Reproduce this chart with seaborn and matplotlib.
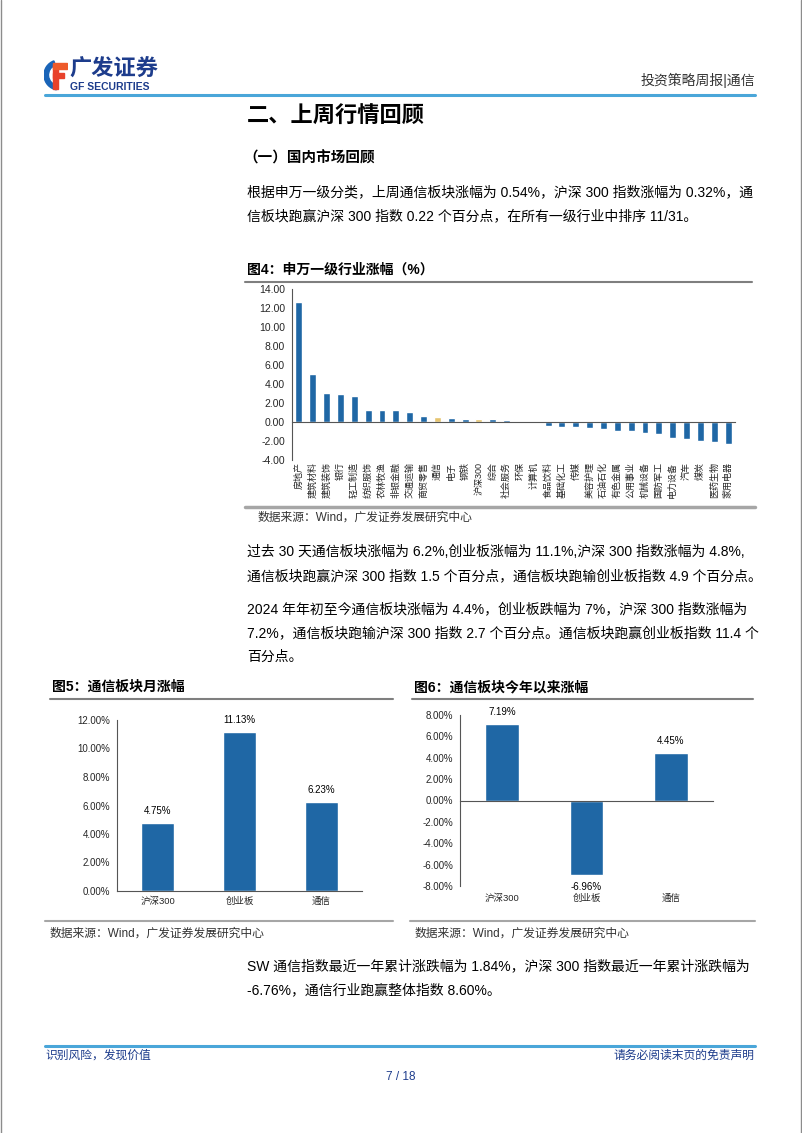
import matplotlib
matplotlib.use('Agg')
import numpy as np
import pandas as pd
import matplotlib.pyplot as plt
import seaborn as sns
from matplotlib.lines import Line2D
from matplotlib.patches import Wedge, Rectangle
from matplotlib.ticker import FixedLocator, FuncFormatter

sns.set_style('white')
plt.rcParams['font.family'] = ['Liberation Sans', 'Noto Sans CJK SC']
plt.rcParams['axes.unicode_minus'] = False

# ---------------- data ----------------
industries = ['房地产', '建筑材料', '建筑装饰', '银行', '轻工制造', '纺织服饰', '农林牧渔',
              '非银金融', '交通运输', '商贸零售', '通信', '电子', '钢铁', '沪深300', '综合',
              '社会服务', '环保', '计算机', '食品饮料', '基础化工', '传媒', '美容护理',
              '石油石化', '有色金属', '公用事业', '机械设备', '国防军工', '电力设备', '汽车',
              '煤炭', '医药生物', '家用电器']
industry_change = [12.65, 5.03, 3.01, 2.95, 2.72, 1.30, 1.29, 1.29, 1.08, 0.68, 0.54, 0.40,
                   0.36, 0.32, 0.30, 0.16, 0.05, -0.03, -0.38, -0.53, -0.52, -0.68, -0.78,
                   -0.90, -0.90, -1.18, -1.28, -1.65, -1.75, -2.05, -2.12, -2.30]
highlight = ['通信', '沪深300']

month_labels = ['沪深300', '创业板', '通信']
month_change = [4.75, 11.13, 6.23]

ytd_labels = ['沪深300', '创业板', '通信']
ytd_change = [7.19, -6.96, 4.45]

BLUE = '#1F67A5'
GOLD = '#E6C46F'
NAVY = '#1D3C8C'
AXC = '#555555'

W, H = 802, 1133
fig = plt.figure(figsize=(W / 100, H / 100), dpi=100)
fig.patch.set_facecolor('white')


def fx(x):
    return x / W


def fy(y):
    return 1 - y / H


def axes_px(l, t, r, b):
    return fig.add_axes([fx(l), fy(b), (r - l) / W, (b - t) / H])


def text(x, y, s, **kw):
    kw.setdefault('va', 'center')
    fig.text(fx(x), fy(y), s, **kw)


def hline(x0, x1, y, color, lw):
    fig.add_artist(Line2D([fx(x0), fx(x1)], [fy(y), fy(y)], color=color, lw=lw,
                          transform=fig.transFigure))


# page border
fig.add_artist(Line2D([fx(0.6), fx(0.6)], [0, 1], color='#8c8c8c', lw=1, transform=fig.transFigure))
fig.add_artist(Line2D([fx(801.4), fx(801.4)], [0, 1], color='#8c8c8c', lw=1, transform=fig.transFigure))

# ---------------- header ----------------
lg = axes_px(44, 56, 68, 92)
lg.set_xlim(0, 24)
lg.set_ylim(36, 0)
lg.axis('off')
lg.add_patch(Wedge((15, 19), 15, 100, 250, width=4.5, color='#1A64B8'))
lg.add_patch(Rectangle((9, 9), 5, 24, color='#E8412B'))
lg.add_patch(Rectangle((9, 7), 14, 5.5, color='#EE5A2A'))
lg.add_patch(Rectangle((9, 17), 11, 5, color='#E8412B'))

text(69, 70, '广发证券', fontsize=16, fontweight='bold', color=NAVY)
text(70, 87, 'GF SECURITIES', fontsize=7.5, fontweight='bold', color=NAVY)
text(755, 80, '投资策略周报|通信', fontsize=10, color='#333333', ha='right')
hline(45, 755, 95, '#4AA6D9', 2.2)

# ---------------- headings & paragraphs ----------------
text(247, 117, '二、上周行情回顾', fontsize=16, fontweight='bold', color='black')
text(243, 158, '（一）国内市场回顾', fontsize=10.5, fontweight='bold', color='black')

BODY = dict(fontsize=10, color='black')
text(247, 192, '根据申万一级分类，上周通信板块涨幅为 0.54%，沪深 300 指数涨幅为 0.32%，通', **BODY)
text(247, 216, '信板块跑赢沪深 300 指数 0.22 个百分点，在所有一级行业中排序 11/31。', **BODY)

text(247, 552, '过去 30 天通信板块涨幅为 6.2%,创业板涨幅为 11.1%,沪深 300 指数涨幅为 4.8%,', **BODY)
text(247, 576, '通信板块跑赢沪深 300 指数 1.5 个百分点，通信板块跑输创业板指数 4.9 个百分点。', **BODY)

text(247, 609, '2024 年年初至今通信板块涨幅为 4.4%，创业板跌幅为 7%，沪深 300 指数涨幅为', **BODY)
text(247, 633, '7.2%，通信板块跑输沪深 300 指数 2.7 个百分点。通信板块跑赢创业板指数 11.4 个', **BODY)
text(247, 657, '百分点。', **BODY)

text(247, 966, 'SW 通信指数最近一年累计涨跌幅为 1.84%，沪深 300 指数最近一年累计涨跌幅为', **BODY)
text(247, 990, '-6.76%，通信行业跑赢整体指数 8.60%。', **BODY)

SRC = '数据来源：Wind，广发证券发展研究中心'

# ---------------- Figure 4 ----------------
text(247, 270, '图4：申万一级行业涨幅（%）', fontsize=10, fontweight='bold', color='black')
hline(245, 752, 282, '#7f7f7f', 1.5)
hline(245, 755, 507, '#a6a6a6', 2.5)
text(258, 518, SRC, fontsize=8.5, color='#333333')

ax1 = axes_px(292, 289, 735, 460)
df1 = pd.DataFrame({'行业': industries, '涨幅': industry_change})
pal1 = {c: (GOLD if c in highlight else BLUE) for c in industries}
sns.barplot(data=df1, x='行业', y='涨幅', hue='行业', order=industries, hue_order=industries,
            palette=pal1, width=0.5, saturation=1, legend=False, ax=ax1)
ax1.set_xlim(-0.5, len(industries) - 0.5)
ax1.set_ylim(-4, 14)
ax1.yaxis.set_major_locator(FixedLocator(np.arange(-4, 14.01, 2)))
ax1.yaxis.set_major_formatter(FuncFormatter(lambda v, p: f'{v:.2f}'))
ax1.set_xlabel('')
ax1.set_ylabel('')
for s in ['top', 'right']:
    ax1.spines[s].set_visible(False)
ax1.spines['bottom'].set_position(('data', 0))
for s in ['left', 'bottom']:
    ax1.spines[s].set_color(AXC)
    ax1.spines[s].set_linewidth(0.8)
ax1.tick_params(axis='y', direction='out', length=3, width=0.8, color=AXC, labelsize=7.5, pad=2)
ax1.tick_params(axis='x', which='major', length=0, labelsize=6.5, pad=29, labelrotation=90)
ax1.xaxis.set_minor_locator(FixedLocator(np.arange(0.5, len(industries) - 0.5, 1)))
ax1.tick_params(axis='x', which='minor', direction='out', length=3, width=0.8, color=AXC)
ax1.grid(False)

# ---------------- Figure 5 ----------------
text(52, 687, '图5：通信板块月涨幅', fontsize=10, fontweight='bold', color='black')
hline(50, 393, 699, '#7f7f7f', 1.5)
hline(45, 393, 921, '#a6a6a6', 1.5)
text(50, 934, SRC, fontsize=8.5, color='#333333')

ax2 = axes_px(117, 720, 362, 891)
df2 = pd.DataFrame({'板块': month_labels, '涨幅': month_change})
sns.barplot(data=df2, x='板块', y='涨幅', hue='板块', order=month_labels, hue_order=month_labels,
            palette={c: BLUE for c in month_labels}, width=0.4, saturation=1, legend=False, ax=ax2)
for cont in ax2.containers:
    ax2.bar_label(cont, fmt='{:.2f}%', padding=5, fontsize=7, color='black')
ax2.set_xlim(-0.5, 2.5)
ax2.set_ylim(0, 12)
ax2.yaxis.set_major_locator(FixedLocator(np.arange(0, 12.01, 2)))
ax2.yaxis.set_major_formatter(FuncFormatter(lambda v, p: f'{v:.2f}%'))
ax2.set_xlabel('')
ax2.set_ylabel('')
for s in ['top', 'right']:
    ax2.spines[s].set_visible(False)
for s in ['left', 'bottom']:
    ax2.spines[s].set_color(AXC)
    ax2.spines[s].set_linewidth(0.8)
ax2.tick_params(axis='y', direction='out', length=3, width=0.8, color=AXC, labelsize=7, pad=2)
ax2.tick_params(axis='x', which='major', length=0, labelsize=6.8, pad=4)
ax2.xaxis.set_minor_locator(FixedLocator([0.5, 1.5, 2.5]))
ax2.tick_params(axis='x', which='minor', direction='out', length=3, width=0.8, color=AXC)
ax2.grid(False)

# ---------------- Figure 6 ----------------
text(414, 687, '图6：通信板块今年以来涨幅', fontsize=10, fontweight='bold', color='black')
hline(412, 753, 699, '#7f7f7f', 1.5)
hline(410, 755, 921, '#a6a6a6', 1.5)
text(415, 934, SRC, fontsize=8.5, color='#333333')

ax3 = axes_px(460, 715, 713, 886)
df3 = pd.DataFrame({'板块': ytd_labels, '涨幅': ytd_change})
sns.barplot(data=df3, x='板块', y='涨幅', hue='板块', order=ytd_labels, hue_order=ytd_labels,
            palette={c: BLUE for c in ytd_labels}, width=0.4, saturation=1, legend=False, ax=ax3)
for cont in ax3.containers:
    ax3.bar_label(cont, fmt='{:.2f}%', padding=5, fontsize=7, color='black')
ax3.set_xlim(-0.5, 2.5)
ax3.set_ylim(-8, 8)
ax3.yaxis.set_major_locator(FixedLocator(np.arange(-8, 8.01, 2)))
ax3.yaxis.set_major_formatter(FuncFormatter(lambda v, p: f'{v:.2f}%'))
ax3.set_xlabel('')
ax3.set_ylabel('')
for s in ['top', 'right']:
    ax3.spines[s].set_visible(False)
ax3.spines['bottom'].set_position(('data', 0))
for s in ['left', 'bottom']:
    ax3.spines[s].set_color(AXC)
    ax3.spines[s].set_linewidth(0.8)
ax3.tick_params(axis='y', direction='out', length=3, width=0.8, color=AXC, labelsize=7, pad=2)
ax3.tick_params(axis='x', which='major', length=0, labelsize=6.8, pad=67)
ax3.xaxis.set_minor_locator(FixedLocator([0.5, 1.5, 2.5]))
ax3.tick_params(axis='x', which='minor', direction='out', length=3, width=0.8, color=AXC)
ax3.grid(False)

# ---------------- footer ----------------
hline(45, 755, 1046, '#4AA6D9', 2.2)
text(45, 1056, '识别风险，发现价值', fontsize=8.5, color=NAVY)
text(755, 1056, '请务必阅读末页的免责声明', fontsize=8.5, color=NAVY, ha='right')
text(401, 1077, '7 / 18', fontsize=8.5, color=NAVY, ha='center')

fig.savefig('out.png', dpi=100, facecolor='white')
